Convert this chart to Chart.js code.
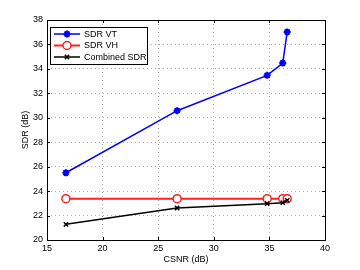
<!DOCTYPE html>
<html><head><meta charset="utf-8">
<script src="https://cdn.jsdelivr.net/npm/chart.js@4"></script>
<style>html,body{margin:0;padding:0;background:#fff}#w{width:360px;height:270px}</style>
</head><body><div id="w"><canvas id="c"></canvas></div>
<script>
const csnr = [16.7, 26.7, 34.8, 36.2, 36.6];
const sdrVT = [25.5, 30.58, 33.47, 34.48, 37.02];
const sdrVH = [23.38, 23.38, 23.38, 23.38, 23.38];
const sdrCombined = [21.28, 22.62, 22.97, 23.05, 23.25];
const xTicks = [15, 20, 25, 30, 35, 40];
const yTicks = [20, 22, 24, 26, 28, 30, 32, 34, 36, 38];
const seriesNames = ['SDR VT', 'SDR VH', 'Combined SDR'];

const FONT = 'Liberation Sans, Arial, sans-serif';
const pts = ys => csnr.map((x, i) => ({x, y: ys[i]}));

const frame = {
  id: 'frame',
  afterDatasetsDraw(chart) {
    const {ctx, chartArea: a, scales: {x, y}} = chart;
    ctx.save();
    ctx.strokeStyle = '#000'; ctx.lineWidth = 1;
    ctx.beginPath();
    xTicks.forEach(v => {
      const px = Math.round(x.getPixelForValue(v)) + 0.5;
      ctx.moveTo(px, a.bottom); ctx.lineTo(px, a.bottom - 3);
      ctx.moveTo(px, a.top); ctx.lineTo(px, a.top + 3);
    });
    yTicks.forEach(v => {
      const py = Math.round(y.getPixelForValue(v)) + 0.5;
      ctx.moveTo(a.left, py); ctx.lineTo(a.left + 3, py);
      ctx.moveTo(a.right, py); ctx.lineTo(a.right - 3, py);
    });
    ctx.stroke();
    ctx.strokeRect(Math.round(a.left) + 0.5, Math.round(a.top) + 0.5, Math.round(a.right - a.left), Math.round(a.bottom - a.top));
    // legend
    const lx = 50.5, ly = 27.5, lw = 97, lh = 37;
    ctx.fillStyle = '#fff';
    ctx.fillRect(lx, ly, lw, lh);
    ctx.strokeRect(lx, ly, lw, lh);
    const ds = chart.data.datasets;
    const rows = [34, 45.5, 57];
    ds.forEach((d, i) => {
      const yy = rows[i];
      ctx.save();
      ctx.strokeStyle = d.borderColor; ctx.lineWidth = d.borderWidth;
      ctx.beginPath(); ctx.moveTo(54, yy); ctx.lineTo(80, yy); ctx.stroke();
      ctx.fillStyle = d.pointBackgroundColor; ctx.strokeStyle = d.borderColor; ctx.lineWidth = d.pointBorderWidth;
      Chart.helpers.drawPoint(ctx, {pointStyle: d.pointStyle, radius: d.pointRadius, borderWidth: d.pointBorderWidth, rotation: 0}, 67, yy);
      ctx.restore();
      ctx.fillStyle = '#000';
      ctx.font = '9px ' + FONT;
      ctx.textBaseline = 'middle'; ctx.textAlign = 'left';
      ctx.fillText(d.label, 84, yy + 0.5);
    });
    ctx.restore();
  }
};

new Chart(document.getElementById('c'), {
  type: 'line',
  data: {
    datasets: [
      {label: seriesNames[0], data: pts(sdrVT), borderColor: '#0000ff', backgroundColor: '#0000ff',
       pointBackgroundColor: '#0000ff', borderWidth: 1.5, pointStyle: 'star', pointRadius: 3.5, pointBorderWidth: 2, order: 2},
      {label: seriesNames[1], data: pts(sdrVH), borderColor: '#ff2020', backgroundColor: '#ff2020',
       pointBackgroundColor: '#ffffff', borderWidth: 2, pointStyle: 'circle', pointRadius: 4, pointBorderWidth: 1.5, order: 1},
      {label: seriesNames[2], data: pts(sdrCombined), borderColor: '#000000', backgroundColor: '#000000',
       pointBackgroundColor: '#000000', borderWidth: 1.5, pointStyle: 'crossRot', pointRadius: 3, pointBorderWidth: 1.5, order: 0}
    ]
  },
  options: {
    responsive: true, maintainAspectRatio: false, animation: false,
    layout: {padding: {top: 20, right: 35, left: 20, bottom: 5}},
    plugins: {legend: {display: false}, tooltip: {enabled: false}},
    elements: {line: {tension: 0}},
    scales: {
      x: {
        type: 'linear', min: 15, max: 40,
        afterBuildTicks: s => { s.ticks = xTicks.map(v => ({value: v})); },
        afterFit: s => { s.height = 25; },
        border: {display: false, dash: [1, 3]},
        grid: {color: '#b0b0b0', lineWidth: 1, drawTicks: false},
        ticks: {color: '#000', font: {family: FONT, size: 9}, padding: 3, maxRotation: 0},
        title: {display: true, text: 'CSNR (dB)', color: '#000', font: {family: FONT, size: 9}, padding: {top: 0, bottom: 0}}
      },
      y: {
        type: 'linear', min: 20, max: 38,
        afterBuildTicks: s => { s.ticks = yTicks.map(v => ({value: v})); },
        afterFit: s => { s.width = 27; },
        border: {display: false, dash: [1, 3]},
        grid: {color: '#b0b0b0', lineWidth: 1, drawTicks: false},
        ticks: {color: '#000', font: {family: FONT, size: 9}, padding: 4},
        title: {display: true, text: 'SDR (dB)', color: '#000', font: {family: FONT, size: 9}, padding: {top: 0, bottom: 0}}
      }
    }
  },
  plugins: [frame]
});
</script></body></html>
